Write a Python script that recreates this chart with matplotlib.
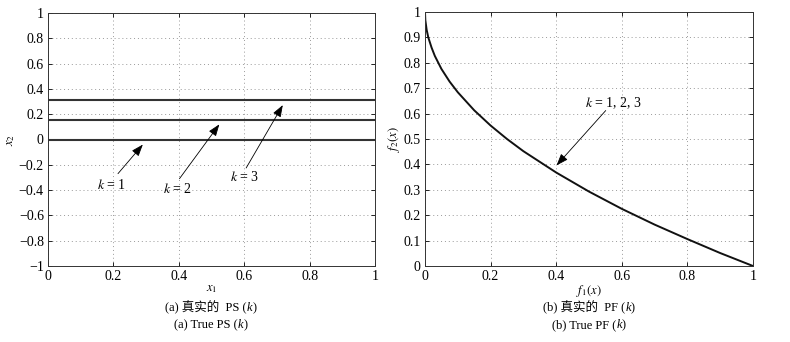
import matplotlib
matplotlib.use("Agg")
import matplotlib.pyplot as plt
from matplotlib.offsetbox import TextArea, HPacker, AnnotationBbox

FAMILY = ['Liberation Serif', 'Noto Sans CJK SC']
plt.rcParams['font.family'] = FAMILY
plt.rcParams['mathtext.fontset'] = 'stix'

# ---- data ----
ps_levels = [0.0, 0.155, 0.31]          # x2 for k = 1, 2, 3
ps_x1 = [0.0, 1.0]

pf_f1 = [0.0, 0.001, 0.005, 0.01, 0.02, 0.03, 0.05, 0.075, 0.1, 0.15, 0.2,
         0.25, 0.3, 0.4, 0.5, 0.6, 0.7, 0.8, 0.9, 1.0]
pf_f2 = [1.0, 0.968, 0.93, 0.90, 0.86, 0.827, 0.776, 0.726, 0.684, 0.613, 0.553,
         0.50, 0.452, 0.368, 0.293, 0.225, 0.163, 0.106, 0.051, 0.0]

left_xticks = [0, 0.2, 0.4, 0.6, 0.8, 1]
left_xticklabels = ['0', '0.2', '0.4', '0.6', '0.8', '1']
left_yticks = [-1, -0.8, -0.6, -0.4, -0.2, 0, 0.2, 0.4, 0.6, 0.8, 1]
left_yticklabels = ['\u22121', '\u22120.8', '\u22120.6', '\u22120.4', '\u22120.2', '0',
                    '0.2', '0.4', '0.6', '0.8', '1']
right_yticks = [0, 0.1, 0.2, 0.3, 0.4, 0.5, 0.6, 0.7, 0.8, 0.9, 1]
right_yticklabels = ['0', '0.1', '0.2', '0.3', '0.4', '0.5', '0.6', '0.7', '0.8', '0.9', '1']

ps_labels = ['$k$ = 1', '$k$ = 2', '$k$ = 3']
ps_text_pos = [(0.193, -0.36), (0.397, -0.39), (0.60, -0.295)]
ps_arrow_start = [(0.214, -0.27), (0.402, -0.31), (0.606, -0.225)]
ps_arrow_end = [(0.29, -0.04), (0.524, 0.12), (0.718, 0.272)]

pf_label = '$k$ = 1, 2, 3'

captions_a = [[('(a) 真实的  PS (', 'normal'), ('k', 'italic'), (')', 'normal')],
              [('(a) True PS (', 'normal'), ('k', 'italic'), (')', 'normal')]]
captions_b = [[('(b) 真实的  PF (', 'normal'), ('k', 'italic'), (')', 'normal')],
              [('(b) True PF (', 'normal'), ('k', 'italic'), (')', 'normal')]]

# ---- figure ----
fig = plt.figure(figsize=(7.9, 3.42), dpi=100)
fig.patch.set_facecolor('white')
ax1 = fig.add_axes([48/790, 1-266/342, 327/790, 253/342])
ax2 = fig.add_axes([425/790, 1-266/342, 328/790, 254/342])

fs = 10
fs_small = 9

def style(ax):
    ax.grid(True, linestyle=(0, (1, 3)), color='#999999', linewidth=0.7)
    ax.tick_params(direction='in', length=3, width=0.6, labelsize=fs, top=True, right=True, pad=3)
    for s in ax.spines.values():
        s.set_linewidth(0.7)
        s.set_color('#333333')

arrow_kw = dict(arrowstyle='-|>,head_length=0.6,head_width=0.22', lw=0.6, color='k',
                mutation_scale=12, shrinkA=0, shrinkB=0)

# left
for lvl in ps_levels:
    ax1.plot(ps_x1, [lvl, lvl], color='#333333', linewidth=1.5)
ax1.set_xlim(0, 1)
ax1.set_ylim(-1, 1)
ax1.set_xticks(left_xticks)
ax1.set_xticklabels(left_xticklabels)
ax1.set_yticks(left_yticks)
ax1.set_yticklabels(left_yticklabels)
style(ax1)
ax1.set_xlabel('$x_1$', fontsize=fs_small, labelpad=0)
ax1.set_ylabel('$x_2$', fontsize=fs_small, labelpad=1)
for lab, tp, st, en in zip(ps_labels, ps_text_pos, ps_arrow_start, ps_arrow_end):
    ax1.text(tp[0], tp[1], lab, fontsize=fs, ha='center', va='center')
    ax1.annotate('', xy=en, xytext=st, arrowprops=arrow_kw)

# right
ax2.plot(pf_f1, pf_f2, color='#111111', linewidth=1.4)
ax2.set_xlim(0, 1)
ax2.set_ylim(0, 1)
ax2.set_xticks(left_xticks)
ax2.set_xticklabels(left_xticklabels)
ax2.set_yticks(right_yticks)
ax2.set_yticklabels(right_yticklabels)
style(ax2)
ax2.set_xlabel('$f_1(x)$', fontsize=fs_small, labelpad=0)
ax2.set_ylabel('$f_2(x)$', fontsize=fs_small, labelpad=1)
ax2.text(0.576, 0.64, pf_label, fontsize=fs, ha='center', va='center')
ax2.annotate('', xy=(0.401, 0.396), xytext=(0.551, 0.612), arrowprops=arrow_kw)

# captions
def caption(x, y, parts):
    boxes = [TextArea(t, textprops=dict(fontsize=fs_small, fontstyle=st, family=FAMILY))
             for t, st in parts]
    pack = HPacker(children=boxes, pad=0, sep=0, align='baseline')
    ab = AnnotationBbox(pack, (x, y), xycoords='figure fraction', frameon=False,
                        box_alignment=(0.5, 0.5), pad=0)
    fig.add_artist(ab)

caption(211/790, 1-307/342, captions_a[0])
caption(211/790, 1-325/342, captions_a[1])
caption(589/790, 1-307/342, captions_b[0])
caption(589/790, 1-325/342, captions_b[1])

fig.savefig('out.png', dpi=100)
